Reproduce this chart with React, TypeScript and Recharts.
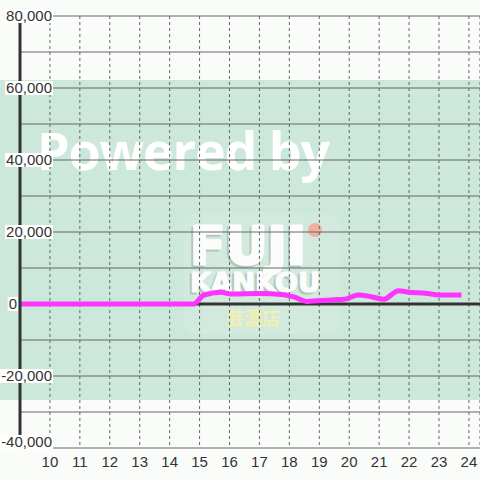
import React from "react";
import {
  LineChart,
  Line,
  XAxis,
  YAxis,
  CartesianGrid,
  ReferenceLine,
} from "recharts";

const hours = [
  9, 14.8, 15.15, 15.7, 16.05, 17, 17.8, 18.15, 18.6, 18.92, 19.5, 19.82, 20.3,
  20.7, 21.15, 21.65, 22, 22.55, 23, 23.75,
];
const sales = [
  0, 0, 2500, 3250, 2800, 2900, 2600, 2000, 700, 900, 1200, 1300, 2500, 2100,
  1300, 3700, 3250, 3000, 2500, 2500,
];
const xTicks = [10, 11, 12, 13, 14, 15, 16, 17, 18, 19, 20, 21, 22, 23, 24];
const yTicks = [
  -40000, -30000, -20000, -10000, 0, 10000, 20000, 30000, 40000, 50000, 60000,
  70000, 80000,
];

const data = hours.map((h, i) => ({ h, v: sales[i] }));

const FONT = "'Liberation Sans', Arial, sans-serif";

function textWidth(s: string) {
  let w = 0;
  for (const c of s) {
    if (c === ",") w += 4.2;
    else if (c === "-") w += 5;
    else w += 8.34;
  }
  return w;
}

function YTick(props: any) {
  const { y, payload } = props;
  const v = payload.value as number;
  if (v % 20000 !== 0) return null;
  const label = v.toLocaleString("en-US");
  const right = v === 0 ? 17 : 52;
  const cy = v === -40000 ? y - 6 : y;
  const w = textWidth(label);
  return (
    <g>
      <rect x={right - w - 1} y={cy - 7} width={w + 2} height={14} fill="#fff" />
      <text
        x={right}
        y={cy}
        dy="0.35em"
        textAnchor="end"
        fontSize={15}
        fontFamily={FONT}
        fill="#333"
      >
        {label}
      </text>
    </g>
  );
}

// big logo word with a soft grey shadow under it
function LogoWord(p: { x: number; y: number; size: number; len: number; sw: number; text: string }) {
  const common = {
    fontSize: p.size,
    fontWeight: 700,
    fontFamily: "'DejaVu Sans', sans-serif",
    textLength: p.len,
    lengthAdjust: "spacingAndGlyphs" as const,
    strokeLinejoin: "round" as const,
    strokeWidth: p.sw,
  };
  return (
    <g>
      <text x={p.x - 2} y={p.y + 2} {...common} fill="#b4c6bd" stroke="#b4c6bd">
        {p.text}
      </text>
      <text x={p.x} y={p.y} {...common} fill="#fbfdfc" stroke="#fbfdfc">
        {p.text}
      </text>
    </g>
  );
}

function Watermark() {
  return (
    <svg width={480} height={480} style={{ position: "absolute", left: 0, top: 0 }}>
      <rect x={0} y={0} width={480} height={480} fill="#fafcfa" />
      <rect x={0} y={80} width={480} height={320} fill="#cce8da" />
      <text
        x={37}
        y={170}
        fontSize={52}
        fontWeight={700}
        fontFamily="'Open Sans', sans-serif"
        fill="#fff"
        textLength={293}
      >
        Powered by
      </text>
      <rect x={183} y={214} width={158} height={120} rx={12} fill="#fff" opacity={0.1} />
      <LogoWord x={190} y={264} size={52} len={116} sw={3} text="FUJI" />
      <circle cx={315} cy={230} r={7} fill="#f4a89a" opacity={0.9} />
      <LogoWord x={190} y={292} size={27} len={130} sw={1.2} text="KANKOU" />
      <text
        x={253}
        y={325}
        fontSize={18}
        fontWeight={700}
        textAnchor="middle"
        fontFamily="'Noto Sans CJK JP', sans-serif"
        fill="#f1efb2"
      >
        芸濃店
      </text>
    </svg>
  );
}

export default function App() {
  return (
    <div style={{ position: "fixed", left: 0, top: 0, width: 480, height: 480 }}>
      <Watermark />
      <div style={{ position: "absolute", left: 0, top: 0 }}>
        <LineChart
          width={480}
          height={480}
          data={data}
          margin={{ top: 16, right: 0, left: 0, bottom: 0 }}
        >
          <CartesianGrid vertical={false} stroke="#666" strokeWidth={1} />
          <CartesianGrid horizontal={false} stroke="#666" strokeDasharray="3 3" />
          <XAxis
            dataKey="h"
            type="number"
            domain={[9, 24.37]}
            ticks={xTicks}
            allowDataOverflow
            height={32}
            axisLine={false}
            tickLine={false}
            tick={{ fontSize: 15, fontFamily: FONT, fill: "#333" }}
          />
          <YAxis
            type="number"
            domain={[-40000, 80000]}
            ticks={yTicks}
            width={20}
            axisLine={{ stroke: "#333", strokeWidth: 3 }}
            tickLine={false}
            tick={<YTick />}
            interval={0}
          />
          <ReferenceLine y={0} stroke="#333" strokeWidth={3} />
          <Line
            type="monotone"
            dataKey="v"
            stroke="#ff33ff"
            strokeWidth={5}
            dot={false}
            isAnimationActive={false}
          />
        </LineChart>
      </div>
    </div>
  );
}
